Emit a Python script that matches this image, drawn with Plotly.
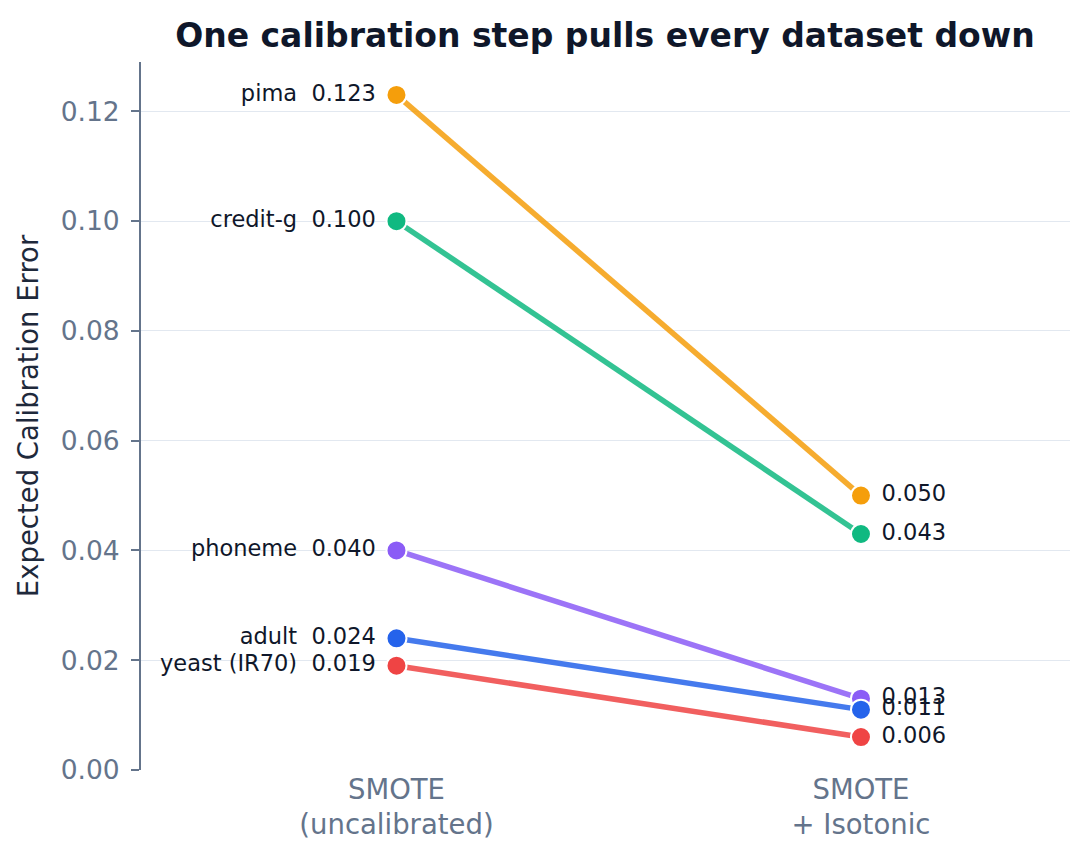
import plotly.graph_objects as go

datasets = ["pima", "credit-g", "phoneme", "adult", "yeast (IR70)"]
uncalibrated = [0.123, 0.100, 0.040, 0.024, 0.019]
isotonic = [0.050, 0.043, 0.013, 0.011, 0.006]
colors = ["#f59e0b", "#10b981", "#8b5cf6", "#2563eb", "#ef4444"]
stages = ["SMOTE<br>(uncalibrated)", "SMOTE<br>+ Isotonic"]
xpos = [0, 1]
yticks = [0.0, 0.02, 0.04, 0.06, 0.08, 0.10, 0.12]

fig = go.Figure()
for name, a, b, c in zip(datasets, uncalibrated, isotonic, colors):
    fig.add_trace(go.Scatter(
        x=xpos, y=[a, b], mode="lines",
        line=dict(color=c, width=5.5), opacity=0.85,
        hoverinfo="skip", showlegend=False))
for name, a, b, c in zip(datasets, uncalibrated, isotonic, colors):
    fig.add_trace(go.Scatter(
        x=xpos, y=[a, b], mode="markers+text",
        marker=dict(color=c, size=20, line=dict(color="white", width=2)),
        text=[f"{name}\u00a0\u00a0{a:.3f}\u00a0", f"\u00a0{b:.3f}"],
        textposition=["middle left", "middle right"],
        textfont=dict(family="DejaVu Sans", size=22.5, color="#0f172a"),
        name=name, showlegend=False, cliponaxis=False))

fig.update_layout(
    width=1090, height=861,
    margin=dict(l=141, r=20, t=62, b=91),
    paper_bgcolor="white", plot_bgcolor="white",
    font=dict(family="DejaVu Sans"),
    title=dict(text="<b>One calibration step pulls every dataset down</b>",
               x=0.555, xanchor="center", y=0.959, yanchor="middle",
               font=dict(size=33, color="#0f172a")),
    xaxis=dict(range=[-0.55, 1.45], tickmode="array", tickvals=xpos,
               ticktext=stages, showgrid=False, zeroline=False, showline=False,
               tickfont=dict(size=27.5, color="#64748b")),
    yaxis=dict(range=[0, 0.129], tickmode="array", tickvals=yticks,
               ticktext=[f"{v:.2f}" for v in yticks],
               showgrid=True, gridcolor="#e2e8f0", gridwidth=1.3,
               zeroline=False, showline=True, linecolor="#64748b", linewidth=2,
               ticks="outside", ticklen=8, tickcolor="#64748b", tickwidth=2,
               ticklabelstandoff=6,
               tickfont=dict(size=26.5, color="#64748b"),
               title=dict(text="Expected Calibration Error", standoff=14,
                          font=dict(size=27.5, color="#1e293b"))),
)
fig.write_html("out.html")
